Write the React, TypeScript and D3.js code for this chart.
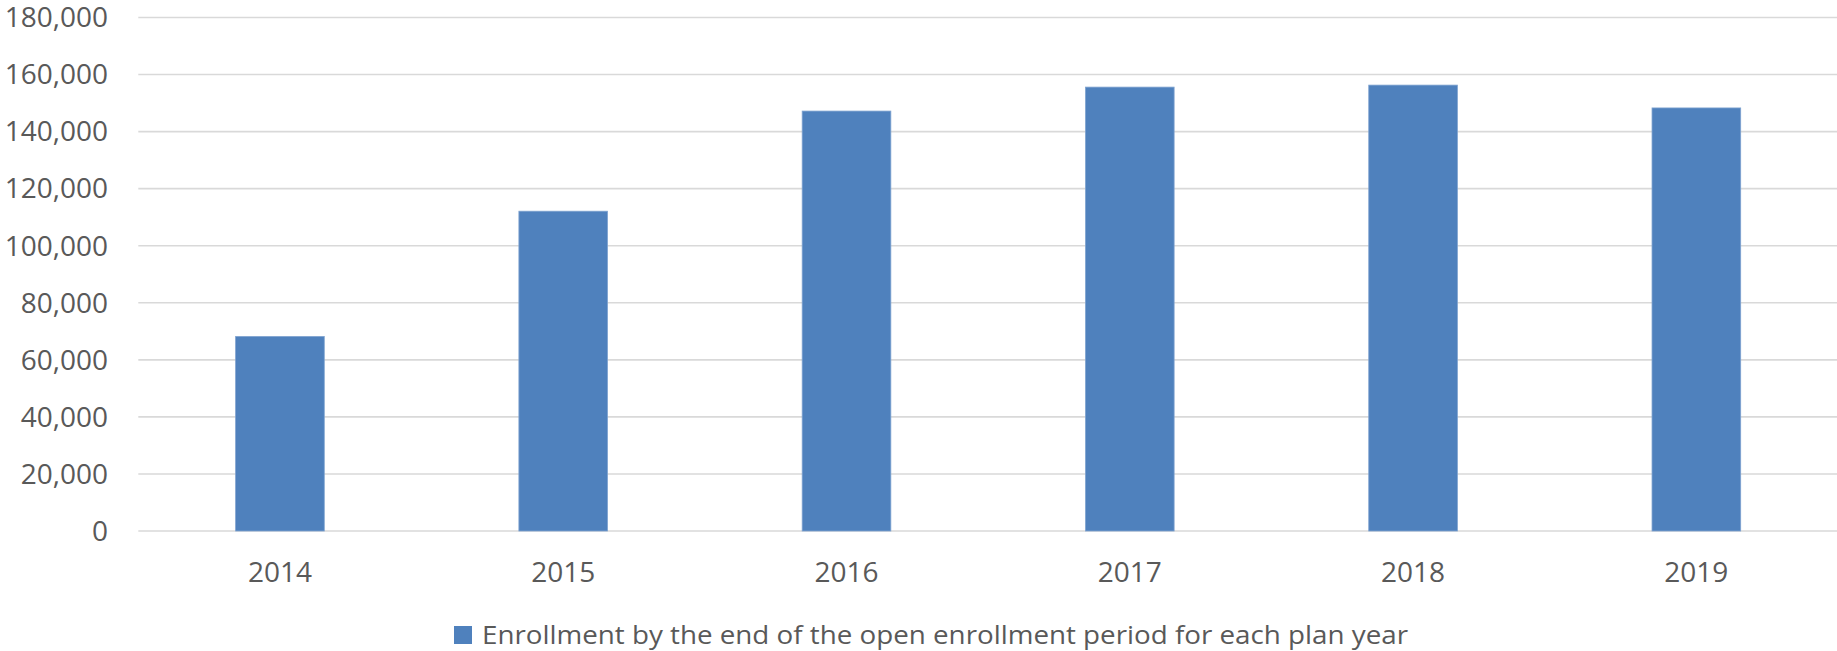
import React from "react";
import * as d3 from "d3";

const years = ["2014", "2015", "2016", "2017", "2018", "2019"];
const enrollment = [68200, 112100, 147200, 155600, 156300, 148300];
const yTicks = [0, 20000, 40000, 60000, 80000, 100000, 120000, 140000, 160000, 180000];
const legendLabel = "Enrollment by the end of the open enrollment period for each plan year";

export default function App() {
  const W = 1837;
  const H = 651;
  const left = 138.3;
  const right = 1838;
  const top = 17.5;
  const bottom = 531;
  const x = d3.scaleBand<string>().domain(years).range([left, right]).paddingInner(0.687).paddingOuter(0.3435);
  const y = d3.scaleLinear().domain([0, 180000]).range([bottom, top]);
  const fmt = d3.format(",");
  const textColor = "#595959";
  const font = "'Open Sans', sans-serif";
  return (
    <svg width={W} height={H} style={{ position: "absolute", left: 0, top: 0, background: "#fff" }}>
      <g>
        {yTicks.map((t) => (
          <g key={t}>
            <line x1={left} x2={W} y1={y(t)} y2={y(t)} stroke="#d9d9d9" strokeWidth={1.6} />
            <text x={108} y={y(t)} dy="0.35em" textAnchor="end" fontFamily={font} fontSize={28} fill={textColor}>
              {fmt(t)}
            </text>
          </g>
        ))}
      </g>
      <g>
        {years.map((yr, i) => (
          <rect
            key={yr}
            x={x(yr)}
            y={y(enrollment[i])}
            width={x.bandwidth()}
            height={y(0) - y(enrollment[i])}
            fill="#4f81bd"
            stroke="#7fa3d0"
            strokeWidth={0.8}
          />
        ))}
      </g>
      <g>
        {years.map((yr) => (
          <text key={yr} x={(x(yr) as number) + x.bandwidth() / 2} y={582} textAnchor="middle" fontFamily={font} fontSize={28} fill={textColor}>
            {yr}
          </text>
        ))}
      </g>
      <g>
        <rect x={454} y={626} width={18} height={18} fill="#4f81bd" />
        <text x={482} y={643.5} fontFamily={font} fontSize={25} fill={textColor} textLength={926} lengthAdjust="spacingAndGlyphs">
          {legendLabel}
        </text>
      </g>
    </svg>
  );
}
